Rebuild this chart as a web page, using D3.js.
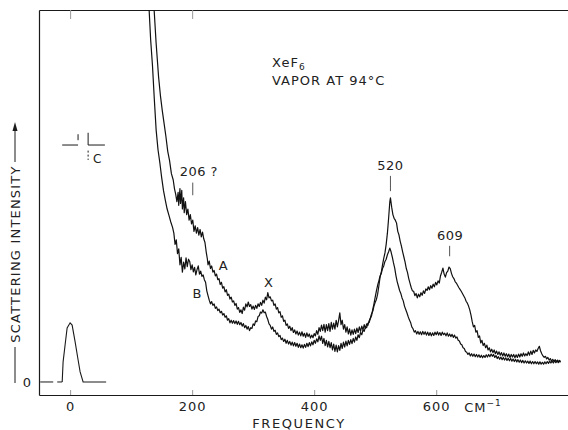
<!DOCTYPE html>
<html>
<head>
<meta charset="utf-8">
<script src="https://cdn.jsdelivr.net/npm/d3@7"></script>
<style>
  body { margin: 0; background: #fff; }
  svg text { font-family: "DejaVu Sans", sans-serif; fill: #222; }
</style>
</head>
<body>
<div id="chart"></div>
<script>
/*
XeF6 vapour Raman spectrum - two traces (A, B) plus the laser line at 0
 */

// frequency axis (cm-1) and intensity axis (arbitrary, 0 = baseline)
var xDomain = [-51, 816];
var yDomain = [-3.5, 100];
var xTicks = [0, 200, 400, 600];
var xTickLabels = ["0", "200", "400", "600"];
var topTicks = [0, 200];

// exciting line, drawn at reduced gain
var laserDashed = [[-49, 0], [-13, 0]];
var laserLine = [[-13, 0], [-11.5, 5.4], [-8.2, 10], [-4.9, 14.5], [0, 15.9], [3.3, 15.3],
    [8.2, 10.8], [13.1, 5.9], [16.4, 2.7], [21.3, 0], [59, 0]];

// trace A (upper)
var traceA = [[125,130],[130,112],[134,104],[137.7,100],[141,91],[145,82],[148,77],[151,73],[154,69.5],[157,66],
    [160,62],[163,59.5],[166,56],[169,54.3],[171,52],[173,50.5],[175,48.5],[177,51],[178,47.5],[180,52],[181,48],
    [183,51.5],[184,46.5],[186,49.5],[187,45.5],[189,48.5],[191,45],[193,46.5],[195,43.5],[197,45],[199,42.5],
    [201,43.5],[203,40.5],[205,42],[207,40],[209,41.5],[211,39.5],[213,41],[215,39],[217,40.3],[219,38.5],
    [221,37.5],[223,35],[225,33],[226,31.5],[228,32.5],[230,30.5],[232,31.2],[234,29.5],[236,30],[238,28.5],
    [240,29],[242,27.5],[244,27.8],[246,26.2],[248,26.8],[250,25.2],[252,25.6],[254,24.2],[256,24.8],[258,23.3],
    [260,23.6],[262,22.3],[264,22.8],[266,21.5],[268,21.8],[270,20.6],[272,21.1],[274,19.6],[276,20],[278,18.7],
    [280,19.4],[282,18.4],[284,20.1],[286,19.3],[288,21],[290,20.2],[292,21.5],[294,20.3],[296,20.8],[298,19.6],
    [300,20.4],[302,19.5],[304,20.6],[306,19.8],[308,21],[310,20.3],[312,21.4],[314,20.6],[316,22],[318,21.2],
    [320,22.8],[322,22.1],[324,24],[326,22.6],[328,22.9],[330,21.8],[332,22],[334,20.6],[336,21],[338,19.6],
    [340,20],[342,18.6],[344,18.9],[346,17.4],[348,17.8],[350,16.3],[352,16.6],[354,15.2],[356,15.6],[358,14.4],
    [360,15],[362,13.8],[364,14.6],[366,13.3],[368,14],[370,12.9],[372,13.7],[374,12.6],[376,13.4],[378,12.4],
    [380,13.5],[382,12.3],[384,13.1],[386,12],[388,13.2],[390,12.2],[392,12.9],[394,11.8],[396,12.6],[398,11.9],
    [400,13],[402,12.4],[404,13.8],[406,12.8],[408,14.6],[410,13.6],[412,15.3],[414,13.8],[416,15.5],[418,13.4],
    [420,15.4],[422,13.8],[424,15.7],[426,13.6],[428,16],[430,14.2],[432,15.8],[434,14.2],[436,16.6],[438,14.8],
    [440,16.5],[442,18.6],[444,15.4],[446,16.6],[448,14.2],[450,15.4],[452,13.4],[454,14.8],[456,12.9],[458,14.3],
    [460,12.6],[462,14],[464,12.8],[466,14.2],[468,13],[470,14.5],[472,13.3],[474,14.8],[476,13.6],[478,15],
    [480,14],[482,15.4],[484,14.4],[486,15.6],[488,15.2],[490,16.4],[492,17.2],[494,18.3],[496,19],[498,20.4],
    [500,21.4],[502,22.2],[504,23.6],[506,25.8],[508,28.2],[510,29.5],[512,31.5],[514,33.2],[516,34.7],[518,37],
    [520,40],[522,44],[524,48.5],[525,49.5],[527,47],[529,45],[531,44],[533,43.5],[535,42.7],[537,40.5],
    [539,39.5],[541,37.8],[543,36.5],[545,35],[547,33.6],[549,32.2],[551,30.5],[553,29.4],[555,27.8],[557,26.6],
    [559,25.4],[561,24.5],[563,24.4],[565,23.2],[567,23.8],[569,22.6],[571,23.6],[573,22.9],[575,24],[577,23.3],
    [579,24.5],[581,23.8],[583,25],[585,24.6],[587,25.6],[589,24.8],[591,25.9],[593,25.2],[595,26.3],[597,25.6],
    [599,26.8],[601,26.1],[603,27.2],[605,26.6],[607,28.5],[609,29.5],[611,30.6],[613,29],[615,28.2],[617,29.4],
    [619,29.8],[621,30.9],[623,30.5],[625,29.2],[627,28.3],[629,27.8],[631,27],[633,26.6],[635,26],[637,25.4],
    [639,24.9],[641,24.4],[643,23.8],[645,23.2],[647,22.6],[649,21.7],[651,21.2],[653,20.4],[655,19.4],[657,18],
    [659,16.2],[661,14.8],[663,15.2],[665,13.4],[667,13.8],[669,12],[671,12.4],[673,10.5],[675,11.2],[677,9.8],
    [679,10.4],[681,9.2],[683,9.9],[685,8.6],[687,9.2],[689,8.1],[691,8.8],[693,7.9],[695,8.6],[697,7.6],
    [699,8.3],[701,7.4],[703,8.1],[705,7.2],[707,7.9],[709,7],[711,7.8],[713,6.9],[715,7.6],[717,6.8],
    [719,7.5],[721,6.6],[723,7.4],[725,6.7],[727,7.4],[729,6.5],[731,7.3],[733,6.6],[735,7.5],[737,6.7],
    [739,7.6],[741,6.9],[743,7.8],[745,7],[747,7.6],[749,7.1],[751,8.1],[753,7.2],[755,8.3],[757,7.4],
    [759,8.5],[761,7.8],[763,8.6],[765,8.2],[767,9],[769,9.6],[771,8.4],[773,7.6],[775,7],[777,6.6],
    [779,6.9],[781,6.2],[783,6.6],[785,5.9],[787,6.3],[789,5.6],[791,6.1],[793,5.5],[795,6],[797,5.4],
    [799,5.9],[801,5.3],[803,5.8]];

// trace B (lower)
var traceB = [[122,130],[126,112],[129.5,100],[132,92],[135,85],[138,76],[141,67.7],[144,62.5],[147,59],[150,55],
    [153,51.5],[156,48.9],[159,46.5],[162,44.8],[165,43],[168,41.5],[170,40],[172,37],[174,38.2],[176,34.5],
    [178,35.8],[180,31.5],[182,33.5],[184,29.5],[186,32.2],[188,30.4],[190,33.4],[192,31],[194,33],[196,32.4],
    [198,30.2],[200,31.5],[202,29.6],[204,30.8],[206,28.8],[208,30.2],[210,31.2],[212,29],[214,29.8],[216,28.4],
    [218,28.8],[220,27.5],[222,26.8],[224,24.5],[226,23.2],[228,22],[230,21],[232,21.6],[234,20.6],[236,21],
    [238,19.8],[240,20.2],[242,19.2],[244,19.6],[246,18.6],[248,19],[250,18],[252,18.4],[254,17.4],[256,17.8],
    [258,16.6],[260,17],[262,15.9],[264,16.6],[266,15.8],[268,16.5],[270,15.7],[272,16.4],[274,15.5],[276,16.3],
    [278,15.4],[280,16],[282,15],[284,15.7],[286,14.6],[288,15.2],[290,14.2],[292,14.9],[294,13.8],[296,14.6],
    [298,14.4],[300,15.6],[302,15.2],[304,16.4],[306,16.2],[308,17.6],[310,17.8],[312,18.8],[314,18.5],[316,19.4],
    [318,18.6],[320,18.8],[322,17.6],[324,16.8],[326,15.6],[328,15.2],[330,14.2],[332,14.8],[334,13.6],[336,13.9],
    [338,12.8],[340,13.2],[342,12.2],[344,12.5],[346,11.4],[348,11.8],[350,10.9],[352,11.5],[354,10.4],[356,11.2],
    [358,10.2],[360,10.9],[362,9.9],[364,10.7],[366,9.7],[368,10.6],[370,9.6],[372,10.4],[374,9.3],[376,10.2],
    [378,9.2],[380,10],[382,9.1],[384,10.1],[386,9.3],[388,10.4],[390,9.5],[392,10.6],[394,9.7],[396,10.8],
    [398,10],[400,11.2],[402,10.4],[404,11.6],[406,10.8],[408,12.4],[410,11.2],[412,12.3],[414,10.4],[416,11.7],
    [418,9.8],[420,11.2],[422,9.4],[424,10.9],[426,9.2],[428,10.6],[430,8.6],[432,10.2],[434,8.2],[436,9.9],
    [438,8.1],[440,9.8],[442,8.5],[444,10.4],[446,9],[448,10.7],[450,9.4],[452,11],[454,9.7],[456,11.2],
    [458,10.1],[460,11.4],[462,10.3],[464,11.7],[466,10.7],[468,12.1],[470,11.2],[472,12.7],[474,11.9],[476,13.3],
    [478,12.7],[480,14],[482,13.6],[484,14.8],[486,14.6],[488,15.8],[490,16],[492,17],[494,17.8],[496,19.5],
    [498,21],[500,22.8],[502,24.5],[504,26],[506,27.2],[508,28.5],[510,29.2],[512,30.5],[514,31.2],[516,32.4],
    [518,33],[520,34.2],[522,35],[524,36],[526,35],[528,33.6],[530,32],[532,30.6],[534,28.6],[536,27],
    [538,25.8],[540,24.6],[542,23.8],[544,22.6],[546,21.8],[548,20.4],[550,19.5],[552,18.6],[554,17.6],[556,16.7],
    [558,16],[560,14.8],[562,14.3],[564,13.4],[566,13.8],[568,12.9],[570,13.6],[572,12.8],[574,13.5],[576,12.7],
    [578,13.6],[580,12.8],[582,13.5],[584,12.6],[586,13.4],[588,12.5],[590,13.3],[592,12.4],[594,13.2],[596,12.5],
    [598,13.4],[600,12.7],[602,13.5],[604,12.6],[606,13.3],[608,12.5],[610,13.4],[612,12.7],[614,13.1],[616,12.4],
    [618,13.2],[620,12.3],[622,12.9],[624,12.2],[626,12.8],[628,12],[630,12.6],[632,11.8],[634,12.1],[636,11.2],
    [638,11],[640,10.2],[642,10],[644,9.2],[646,9],[648,8.2],[650,8],[652,7.4],[654,7.8],[656,7],
    [658,7.6],[660,6.9],[662,7.5],[664,6.8],[666,7.4],[668,6.7],[670,7.3],[672,6.6],[674,7.2],[676,6.5],
    [678,7.1],[680,6.6],[682,7.3],[684,6.7],[686,7.4],[688,6.8],[690,7.5],[692,6.9],[694,7.4],[696,6.6],
    [698,7.1],[700,6.3],[702,6.8],[704,6.1],[706,6.7],[708,6],[710,6.6],[712,5.9],[714,6.5],[716,5.8],
    [718,6.4],[720,5.7],[722,6.3],[724,5.6],[726,6.2],[728,5.5],[730,6.1],[732,5.4],[734,6],[736,5.3],
    [738,5.9],[740,5.2],[742,5.8],[744,5.1],[746,5.7],[748,5.1],[750,5.6],[752,5],[754,5.6],[756,4.9],
    [758,5.5],[760,4.9],[762,5.5],[764,4.9],[766,5.4],[768,4.8],[770,5.4],[772,4.8],[774,5.3],[776,4.8],
    [778,5.4],[780,4.9],[782,5.5],[784,5],[786,5.6],[788,5.1],[790,5.6],[792,5.1],[794,5.7],[796,5.2],
    [798,5.7],[800,5.2],[802,5.8],[804,5.3]];

// peak labels: [text, text freq, text baseline, marker freq, marker top, marker bottom]
var peakLabels = [["206 ?", 211, 55.4, 201, 53.6, 50.2], ["520", 525, 57, 525, 55.4, 51.3], ["609", 623, 38.2, 622, 36.6, 33.8]];
var traceLabels = [["A", 251, 30.1], ["B", 208, 22.6], ["X", 325, 25.5]];

var width = 568, height = 430;

var svg = d3.select("#chart")
    .append("svg")
    .attr("width", width)
    .attr("height", height);

var x = d3.scaleLinear().domain(xDomain).range([39, 568]);
var y = d3.scaleLinear().domain(yDomain).range([395, 10]);

svg.append("clipPath")
    .attr("id", "plot-clip")
    .append("rect")
    .attr("x", 39).attr("y", 10)
    .attr("width", 529).attr("height", 385);

//axes
var bottomAxis = d3.axisBottom(x)
    .tickValues(xTicks)
    .tickFormat(function(d, i) { return xTickLabels[i]; })
    .tickSizeInner(-5)
    .tickSizeOuter(0)
    .tickPadding(7);

var gx = svg.append("g")
    .attr("transform", "translate(0,395)")
    .call(bottomAxis);
gx.selectAll("text").style("font-size", "13px").style("letter-spacing", "1px");
gx.selectAll(".tick line").attr("stroke", "#999");

gx.append("text")
    .attr("x", x(600) + 28)
    .attr("y", 17)
    .style("font-size", "13px")
    .style("letter-spacing", "1px")
    .attr("text-anchor", "start")
    .attr("fill", "#222")
    .text("CM")
    .append("tspan")
    .attr("dy", -6)
    .style("font-size", "9px")
    .text("−1");

svg.append("g")
    .attr("transform", "translate(0,10)")
    .call(d3.axisTop(x).tickValues(topTicks).tickFormat("").tickSizeInner(-9).tickSizeOuter(0))
    .selectAll(".tick line").attr("stroke", "#999");

var gy = svg.append("g")
    .attr("transform", "translate(39,0)")
    .call(d3.axisLeft(y).tickValues([0]).tickSize(0).tickPadding(8));
gy.selectAll("text").style("font-size", "13px");

svg.selectAll(".domain").attr("stroke", "#1a1a1a").attr("stroke-width", 1.2);

//axis titles
svg.append("text")
    .attr("x", 299)
    .attr("y", 428)
    .attr("text-anchor", "middle")
    .style("font-size", "13px")
    .style("letter-spacing", "1.6px")
    .text("FREQUENCY");

svg.append("text")
    .attr("transform", "translate(20,254) rotate(-90)")
    .attr("text-anchor", "middle")
    .style("font-size", "13px")
    .style("letter-spacing", "1.2px")
    .text("SCATTERING INTENSITY");

svg.append("line")
    .attr("x1", 15).attr("x2", 15).attr("y1", 383).attr("y2", 347)
    .attr("stroke", "#1a1a1a");
svg.append("line")
    .attr("x1", 15).attr("x2", 15).attr("y1", 162).attr("y2", 128)
    .attr("stroke", "#1a1a1a");
svg.append("path")
    .attr("d", "M15,122 L12.5,131 L17.5,131 Z")
    .attr("fill", "#1a1a1a");

//spectra
var line = d3.line()
    .x(function(d) { return x(d[0]); })
    .y(function(d) { return y(d[1]); });

var plot = svg.append("g").attr("clip-path", "url(#plot-clip)");

plot.append("path")
    .datum(laserDashed)
    .attr("d", line)
    .attr("fill", "none")
    .attr("stroke", "#1a1a1a")
    .attr("stroke-dasharray", "13,4");

plot.append("path")
    .datum(laserLine)
    .attr("d", line)
    .attr("fill", "none")
    .attr("stroke", "#1a1a1a")
    .attr("stroke-width", 1.1);

[traceA, traceB].forEach(function(trace) {
    plot.append("path")
        .datum(trace)
        .attr("d", line)
        .attr("fill", "none")
        .attr("stroke", "#111")
        .attr("stroke-width", 1.2)
        .attr("stroke-linejoin", "round");
});

//annotations
peakLabels.forEach(function(p) {
    svg.append("text")
        .attr("x", x(p[1]))
        .attr("y", y(p[2]))
        .attr("text-anchor", "middle")
        .style("font-size", "13px")
        .style("letter-spacing", "0.5px")
        .text(p[0]);
    svg.append("line")
        .attr("x1", x(p[3])).attr("x2", x(p[3]))
        .attr("y1", y(p[4])).attr("y2", y(p[5]))
        .attr("stroke", "#555");
});

traceLabels.forEach(function(t) {
    svg.append("text")
        .attr("x", x(t[1]))
        .attr("y", y(t[2]))
        .attr("text-anchor", "middle")
        .style("font-size", "13px")
        .text(t[0]);
});

var title = svg.append("text")
    .attr("x", x(331))
    .attr("y", y(84.7))
    .style("font-size", "13px")
    .style("letter-spacing", "1px")
    .text("XeF");
title.append("tspan")
    .attr("dy", 3)
    .style("font-size", "9px")
    .text("6");

svg.append("text")
    .attr("x", x(331))
    .attr("y", y(79.8))
    .style("font-size", "13px")
    .style("letter-spacing", "1px")
    .text("VAPOR  AT  94°C");

// slit width marker "C"
var cMark = svg.append("g").attr("stroke", "#1a1a1a");
cMark.append("line").attr("x1", x(-13)).attr("x2", x(13)).attr("y1", y(63.7)).attr("y2", y(63.7));
cMark.append("line").attr("x1", x(13)).attr("x2", x(13)).attr("y1", y(66.6)).attr("y2", y(65));
cMark.append("line").attr("x1", x(29.5)).attr("x2", x(29.5)).attr("y1", y(67)).attr("y2", y(63.7));
cMark.append("line").attr("x1", x(29.5)).attr("x2", x(29.5)).attr("y1", y(62.2)).attr("y2", y(59.7))
    .attr("stroke-dasharray", "2,2");
cMark.append("line").attr("x1", x(29.5)).attr("x2", x(57)).attr("y1", y(63.7)).attr("y2", y(63.7));
svg.append("text")
    .attr("x", x(37.5))
    .attr("y", y(59))
    .style("font-size", "12px")
    .text("C");
</script>
</body>
</html>
